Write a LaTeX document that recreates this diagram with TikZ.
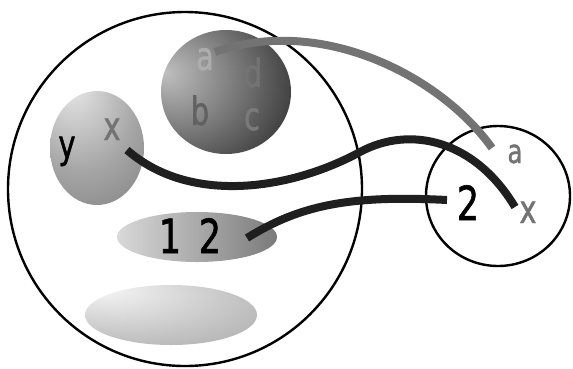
\documentclass[tikz,border=0pt]{standalone}
\usepackage{fontspec}
\newfontfamily\lblfont[FakeStretch=0.74, FakeBold=1.2]{DejaVu Sans}
\usetikzlibrary{shapes.geometric}

% shadings for the little sets
\pgfdeclareradialshading{darkball}{\pgfpoint{-24bp}{8bp}}{color(0bp)=(black!25); color(18bp)=(black!48); color(45bp)=(black!84); color(75bp)=(black!90)}
\pgfdeclareradialshading{greyball}{\pgfpoint{-14bp}{30bp}}{color(0bp)=(black!8); color(30bp)=(black!35); color(65bp)=(black!58); color(90bp)=(black!62)}
\pgfdeclareradialshading{flatball}{\pgfpoint{-20bp}{22bp}}{color(0bp)=(black!4); color(30bp)=(black!22); color(60bp)=(black!38); color(90bp)=(black!42)}

\begin{document}
\begin{tikzpicture}[x=1pt, y=-1pt,
  set/.style={draw, ellipse, line width=2.4pt, inner sep=0pt},
  blob/.style={ellipse, shade, draw=none, inner sep=0pt},
  lbl/.style={font=\lblfont\fontsize{39}{39}\selectfont, inner sep=0pt, anchor=base},
  num/.style={font=\lblfont\fontsize{47}{47}\selectfont, inner sep=0pt, anchor=base},
  wire/.style={line width=8pt}]
\colorlet{wiregray}{black!55}
\useasboundingbox (0,0) rectangle (573,368);

% the two sets
\node[set, minimum width=354pt, minimum height=354pt] (big) at (185,189) {};
\node[set, minimum width=144pt, minimum height=140pt] (small) at (498,196) {};

% elements of the big set
\node[blob, shading=darkball, minimum width=130pt, minimum height=124pt] (abcd) at (226,92) {};
\node[blob, shading=greyball, minimum width=94pt, minimum height=114pt] (xy) at (97,148) {};
\node[blob, left color=black!15, right color=black!52, minimum width=160pt, minimum height=50pt] (onetwo) at (197,237) {};
\node[blob, shading=flatball, minimum width=172pt, minimum height=60pt] (empty) at (171,315) {};

% letters
\node[lbl, text=black!32] (la) at (205,70) {a};
\node[lbl, text=black!55] (ld) at (253,87) {d};
\node[lbl, text=black!62] (lb) at (200,125) {b};
\node[lbl, text=black!52] (lc) at (252,130) {c};
\node[lbl] (ly) at (67,158) {y};
\node[lbl, text=black!55] (lx) at (112,140) {x};
\node[num] (n1) at (170,253) {1};
\node[num] (n2) at (210,253) {2};
\node[lbl, text=black!55, font=\lblfont\fontsize{33}{33}\selectfont] (ra) at (515,163) {a};
\node[num] (r2) at (468,220) {2};
\node[lbl, text=black!55] (rx) at (528,223) {x};

% ends of the maps
\coordinate (ga) at (215,52);
\coordinate (gb) at (492,148);
\coordinate (wa) at (127,150);
\coordinate (wm) at (360,152);
\coordinate (wb) at (515,207);
\coordinate (ta) at (247,238);
\coordinate (tb) at (447,200);

% the maps
\draw[wire, wiregray] (ga) .. controls (320,15) and (440,75) .. (gb);
\draw[wire, black!88] (wa) .. controls (190,205) and (290,190) .. (wm) .. controls (410,125) and (475,140) .. (wb);
\draw[wire, black!88] (ta) .. controls (300,205) and (350,195) .. (tb);
\end{tikzpicture}
\end{document}
